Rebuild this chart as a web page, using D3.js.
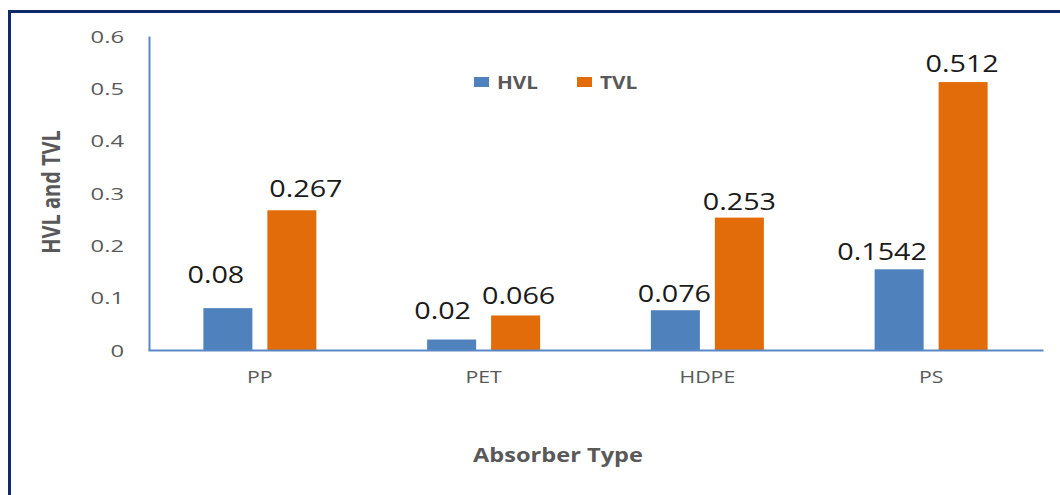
<!DOCTYPE html>
<html lang="en">
<head>
<meta charset="UTF-8">
<title>HVL and TVL by absorber type</title>
<style>
    body { margin: 0; background: #fff; }
    #chart { width: 1060px; height: 495px; }
    text { font-family: "Open Sans", "DejaVu Sans", sans-serif; }
</style>
</head>
<body>
<div id="chart"></div>
<script src="https://d3js.org/d3.v7.min.js"></script>
<script>
    // data
    const categories = ['PP', 'PET', 'HDPE', 'PS'];
    const seriesNames = ['HVL', 'TVL'];
    const hvl = [0.08, 0.02, 0.076, 0.1542];
    const tvl = [0.267, 0.066, 0.253, 0.512];
    const yTicks = [0, 0.1, 0.2, 0.3, 0.4, 0.5, 0.6];

    const colors = { HVL: '#4f81bd', TVL: '#e36c0a' };
    // hand-moved data labels in the original (dx, dy in px)
    const labelNudge = {
        HVL: [[-12, -15], [-9, -11], [-1, 2], [-17, 1]],
        TVL: [[14, -3], [3, -1], [0, 2], [-1, 0]]
    };

    const W = 1060, H = 495;
    const svg = d3.select('#chart').append('svg')
        .attr('width', W).attr('height', H);

    // outer frame (top + left edges visible)
    svg.append('path')
        .attr('d', 'M9.5,495V11.5H1060')
        .attr('fill', 'none')
        .attr('stroke', '#0d2b6b')
        .attr('stroke-width', 3);

    const x0 = d3.scaleBand().domain(categories).range([148, 1043])
        .paddingInner(0.495).paddingOuter(0.2475);
    const x1 = d3.scaleBand().domain(seriesNames).range([0, x0.bandwidth()])
        .paddingInner(0.234);
    const y = d3.scaleLinear().domain([0, 0.6]).range([350, 36]);

    // stretched text like the source image
    function stretch(sel, tx, ty, sx) {
        sel.attr('x', 0).attr('y', 0).attr('dy', null)
            .attr('transform', `translate(${tx},${ty}) scale(${sx},1)`);
    }

    // y axis
    const yAxis = svg.append('g').attr('transform', 'translate(149,0)')
        .call(d3.axisLeft(y).tickValues(yTicks).tickSize(0).tickFormat(d => String(d)));
    yAxis.select('.domain').attr('stroke', '#5a88c6').attr('stroke-width', 2);
    yAxis.selectAll('text')
        .attr('fill', '#595959').attr('font-size', 17)
        .each(function () { stretch(d3.select(this), -25, 6, 1.4); });

    // bars
    const rows = categories.map((c, i) => ({ cat: c, i, HVL: hvl[i], TVL: tvl[i] }));
    const groups = svg.append('g').selectAll('g').data(rows).join('g')
        .attr('transform', d => `translate(${x0(d.cat)},0)`);

    groups.selectAll('rect')
        .data(d => seriesNames.map(s => ({ s, v: d[s] })))
        .join('rect')
        .attr('x', d => x1(d.s))
        .attr('y', d => y(d.v))
        .attr('width', x1.bandwidth())
        .attr('height', d => y(0) - y(d.v))
        .attr('fill', d => colors[d.s]);

    groups.selectAll('text.lbl')
        .data(d => seriesNames.map(s => ({ s, v: d[s], i: d.i })))
        .join('text')
        .attr('class', 'lbl')
        .attr('text-anchor', 'middle')
        .attr('fill', '#1a1a1a')
        .attr('font-size', 23)
        .text(d => String(d.v))
        .each(function (d) {
            const n = labelNudge[d.s][d.i];
            stretch(d3.select(this), x1(d.s) + x1.bandwidth() / 2 + n[0], y(d.v) - 10 + n[1], 1.25);
        });

    // x axis
    const xAxis = svg.append('g').attr('transform', 'translate(0,350)')
        .call(d3.axisBottom(x0).tickSize(0).tickSizeOuter(0));
    xAxis.select('.domain').attr('stroke', '#5a88c6').attr('stroke-width', 2);
    xAxis.selectAll('text')
        .attr('fill', '#595959').attr('font-size', 17)
        .each(function () { stretch(d3.select(this), 0, 33, 1.25); });

    // axis titles
    svg.append('text')
        .attr('text-anchor', 'middle')
        .attr('fill', '#595959').attr('font-size', 20).attr('font-weight', 'bold')
        .attr('transform', 'translate(558,462) scale(1.18,1)')
        .text('Absorber Type');

    svg.append('text')
        .attr('text-anchor', 'middle')
        .attr('fill', '#595959').attr('font-size', 20).attr('font-weight', 'bold')
        .attr('transform', 'translate(60,192) rotate(-90) scale(1,1.25)')
        .text('HVL and TVL');

    // legend
    const legend = svg.append('g').selectAll('g').data(seriesNames).join('g')
        .attr('transform', (d, i) => `translate(${474 + i * 103},77)`);
    legend.append('rect')
        .attr('width', 15).attr('height', 10)
        .attr('fill', d => colors[d]);
    legend.append('text')
        .attr('fill', '#595959').attr('font-size', 17).attr('font-weight', 'bold')
        .attr('transform', 'translate(23,12) scale(1.22,1)')
        .text(d => d);
</script>
</body>
</html>
